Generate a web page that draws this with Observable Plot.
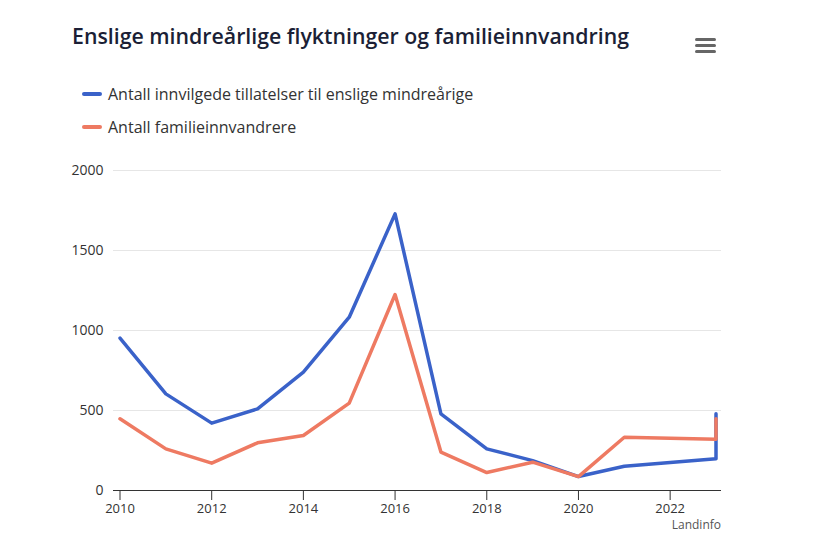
<!DOCTYPE html>
<html>
<head>
<meta charset="utf-8">
<script src="https://cdn.jsdelivr.net/npm/d3@7"></script>
<script src="https://cdn.jsdelivr.net/npm/@observablehq/plot@0.6"></script>
<style>
  html, body { margin: 0; padding: 0; background: #fff; }
  #wrap { position: relative; width: 816px; height: 558px; font-family: "Open Sans", "Noto Sans", sans-serif; }
  #title { position: absolute; left: 72px; top: 21px; font-size: 21.3px; font-weight: 600; color: #1b1f36; white-space: nowrap; }
  #menu { position: absolute; left: 695px; top: 38px; width: 21px; }
  #menu div { height: 3px; background: #666; border-radius: 1.5px; margin-bottom: 3px; }
  .leg { position: absolute; left: 82px; font-size: 16px; color: #333; white-space: nowrap; display: flex; align-items: center; }
  .leg span.sw { display: inline-block; width: 20px; height: 4px; border-radius: 2px; margin-right: 6px; }
  #plot { position: absolute; left: 0; top: 150px; }
  #credit { position: absolute; right: 95px; top: 516px; font-size: 12px; color: #555; }
</style>
</head>
<body>
<div id="wrap">
  <div id="title"></div>
  <div id="menu"><div></div><div></div><div></div></div>
  <div id="leg1" class="leg" style="top:83px"></div>
  <div id="leg2" class="leg" style="top:116px"></div>
  <div id="plot"></div>
  <div id="credit"></div>
</div>
<script>
const title = "Enslige mindreårlige flyktninger og familieinnvandring";
const seriesNames = ["Antall innvilgede tillatelser til enslige mindreårige", "Antall familieinnvandrere"];
const seriesColors = ["#3a62c9", "#ee7a62"];
const credit = "Landinfo";
const years = [2010, 2011, 2012, 2013, 2014, 2015, 2016, 2017, 2018, 2019, 2020, 2021, 2022, 2023, 2023];
const minors = [952, 604, 421, 510, 740, 1083, 1729, 479, 260, 187, 87, 152, 175, 198, 480];
const family = [448, 260, 171, 298, 344, 546, 1225, 240, 112, 177, 87, 333, 327, 321, 448];
const yTicks = [0, 500, 1000, 1500, 2000];
const xTicks = [2010, 2012, 2014, 2016, 2018, 2020, 2022];

document.getElementById("title").textContent = title;
document.getElementById("credit").textContent = credit;
["leg1", "leg2"].forEach((id, i) => {
  const el = document.getElementById(id);
  const sw = document.createElement("span");
  sw.className = "sw";
  sw.style.background = seriesColors[i];
  el.appendChild(sw);
  el.appendChild(document.createTextNode(seriesNames[i]));
});

const data = [];
years.forEach((y, i) => data.push({year: y, value: minors[i], series: seriesNames[0]}));
years.forEach((y, i) => data.push({year: y, value: family[i], series: seriesNames[1]}));

const chart = Plot.plot({
  width: 816,
  height: 400,
  marginLeft: 113,
  marginRight: 95,
  marginTop: 20,
  marginBottom: 60,
  style: {fontFamily: "'Open Sans', 'Noto Sans', sans-serif", fontSize: "13px", color: "#333", background: "transparent"},
  x: {domain: [2010, 2023], insetLeft: 6.5, insetRight: 5.5},
  y: {domain: [0, 2000]},
  color: {domain: seriesNames, range: seriesColors},
  marks: [
    Plot.gridY(yTicks, {stroke: "#e6e6e6", strokeOpacity: 1}),
    Plot.axisY(yTicks, {tickSize: 0, tickPadding: 10, tickFormat: d => String(d), label: null, fontSize: 14, fill: "#333"}),
    Plot.ruleY([0], {stroke: "#333", strokeWidth: 1}),
    Plot.axisX(xTicks, {tickSize: 10, tickPadding: 3, tickFormat: d => String(d), label: null, stroke: "#333", fill: "#333"}),
    Plot.line(data, {x: "year", y: "value", z: "series", stroke: "series", strokeWidth: 3.5, strokeLinejoin: "round", strokeLinecap: "round", curve: "linear"})
  ]
});
document.getElementById("plot").appendChild(chart);
</script>
</body>
</html>
